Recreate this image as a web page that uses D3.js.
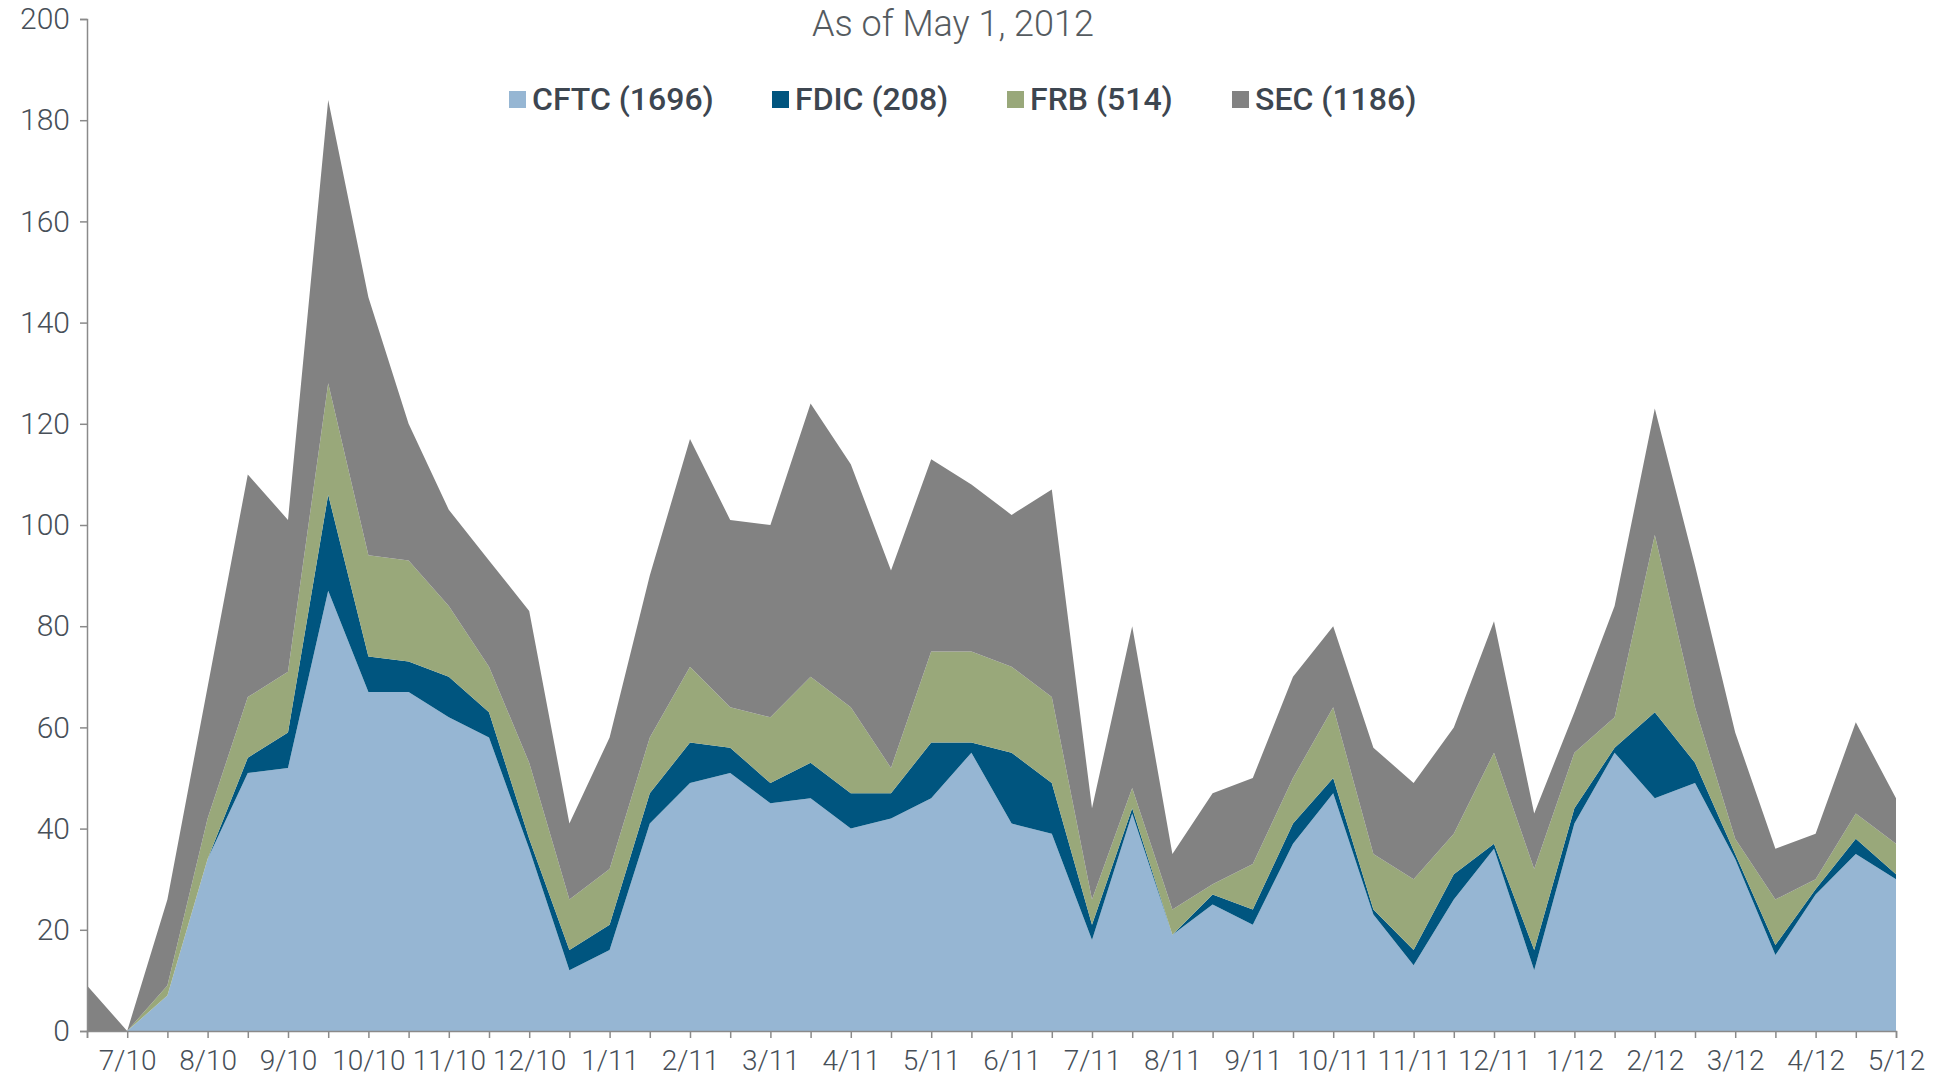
<!DOCTYPE html>
<html>
<head>
<meta charset="utf-8">
<script src="https://cdn.jsdelivr.net/npm/d3@7"></script>
<style>
  body { margin: 0; background: #fff; }
  text { font-family: "Roboto", "Liberation Sans", sans-serif; }
</style>
</head>
<body>
<script>
// half-month periods, first one sits on the y axis
var cftc = [0, 0, 7, 34, 51, 52, 87, 67, 67, 62, 58, 36, 12, 16, 41, 49, 51, 45, 46, 40, 42, 46, 55, 41, 39, 18, 43, 19, 25, 21, 37, 47, 23, 13, 26, 36, 12, 41, 55, 46, 49, 34, 15, 27, 35, 30];
var fdic = [0, 0, 0, 0, 3, 7, 19, 7, 6, 8, 5, 2, 4, 5, 6, 8, 5, 4, 7, 7, 5, 11, 2, 14, 10, 3, 1, 0, 2, 3, 4, 3, 1, 3, 5, 1, 4, 3, 1, 17, 4, 1, 2, 1, 3, 1];
var frb  = [0, 0, 2, 8, 12, 12, 22, 20, 20, 14, 9, 15, 10, 11, 11, 15, 8, 13, 17, 17, 5, 18, 18, 17, 17, 5, 4, 5, 2, 9, 9, 14, 11, 14, 8, 18, 16, 11, 6, 35, 11, 3, 9, 2, 5, 6];
var sec  = [9, 0, 17, 26, 44, 30, 56, 51, 27, 19, 21, 30, 15, 26, 32, 45, 37, 38, 54, 48, 39, 38, 33, 30, 41, 18, 32, 11, 18, 17, 20, 16, 21, 19, 21, 26, 11, 8, 22, 25, 28, 21, 10, 9, 18, 9];

var seriesNames = ["CFTC", "FDIC", "FRB", "SEC"];
var seriesColors = ["#96b6d3", "#00557f", "#99a87a", "#828282"];
var monthLabels = ["7/10", "8/10", "9/10", "10/10", "11/10", "12/10", "1/11", "2/11", "3/11", "4/11", "5/11", "6/11",
                   "7/11", "8/11", "9/11", "10/11", "11/11", "12/11", "1/12", "2/12", "3/12", "4/12", "5/12"];
var yTicks = [0, 20, 40, 60, 80, 100, 120, 140, 160, 180, 200];

var width = 1946, height = 1086;
var plotLeft = 87, plotRight = 1896, plotTop = 19, plotBottom = 1031;

var rows = cftc.map(function(v, i) {
  return { i: i, CFTC: v, FDIC: fdic[i], FRB: frb[i], SEC: sec[i] };
});

var svg = d3.select("body").append("svg")
  .attr("width", width)
  .attr("height", height);

var x = d3.scaleLinear().domain([0, cftc.length - 1]).range([plotLeft, plotRight]);
var y = d3.scaleLinear().domain([0, 200]).range([plotBottom, plotTop]);

var stack = d3.stack().keys(seriesNames);
var layers = stack(rows);

var area = d3.area()
  .x(function(d) { return x(d.data.i); })
  .y0(function(d) { return y(d[0]); })
  .y1(function(d) { return y(d[1]); });

svg.selectAll("path.layer")
  .data(layers)
  .enter().append("path")
  .attr("class", "layer")
  .attr("d", area)
  .style("fill", function(d, k) { return seriesColors[k]; });

// y axis
var yAxis = svg.append("g")
  .attr("transform", "translate(" + plotLeft + ",0)")
  .call(d3.axisLeft(y).tickValues(yTicks).tickSize(7).tickPadding(10));
yAxis.select(".domain").attr("stroke", "#8a8a8a").attr("stroke-width", 1.5);
yAxis.selectAll(".tick line").attr("stroke", "#8a8a8a").attr("stroke-width", 1.5);
yAxis.selectAll(".tick text")
  .style("font-size", "30px")
  .style("font-weight", "300")
  .style("fill", "#474f58");

// x axis, a tick at every period, a label every month
var xAxis = svg.append("g")
  .attr("transform", "translate(0," + plotBottom + ")")
  .call(d3.axisBottom(x).tickValues(d3.range(cftc.length)).tickSize(7).tickPadding(12)
    .tickFormat(function(d) { return d % 2 === 1 ? monthLabels[(d - 1) / 2] : ""; }));
xAxis.select(".domain").attr("stroke", "#8a8a8a").attr("stroke-width", 1.5);
xAxis.selectAll(".tick line").attr("stroke", "#8a8a8a").attr("stroke-width", 1.5);
xAxis.selectAll(".tick text")
  .style("font-size", "28px")
  .style("font-weight", "300")
  .style("fill", "#474f58");

// title
svg.append("text")
  .attr("x", 953)
  .attr("y", 36)
  .attr("text-anchor", "middle")
  .style("font-size", "36px")
  .style("font-weight", "300")
  .style("fill", "#555b60")
  .text("As of May 1, 2012");

// legend
var legendX = [509, 772, 1007, 1232];
var legend = svg.selectAll("g.legend")
  .data(seriesNames)
  .enter().append("g")
  .attr("class", "legend")
  .attr("transform", function(d, k) { return "translate(" + legendX[k] + ",99)"; });

legend.append("rect")
  .attr("x", 0).attr("y", -8)
  .attr("width", 17).attr("height", 17)
  .style("fill", function(d, k) { return seriesColors[k]; });

legend.append("text")
  .attr("x", 23)
  .attr("y", 11)
  .style("font-size", "32px")
  .style("font-weight", "500")
  .style("fill", "#3d4650")
  .text(function(d, k) {
    var total = d3.sum([cftc, fdic, frb, sec][k]);
    return d + " (" + total + ")";
  });
</script>
</body>
</html>
